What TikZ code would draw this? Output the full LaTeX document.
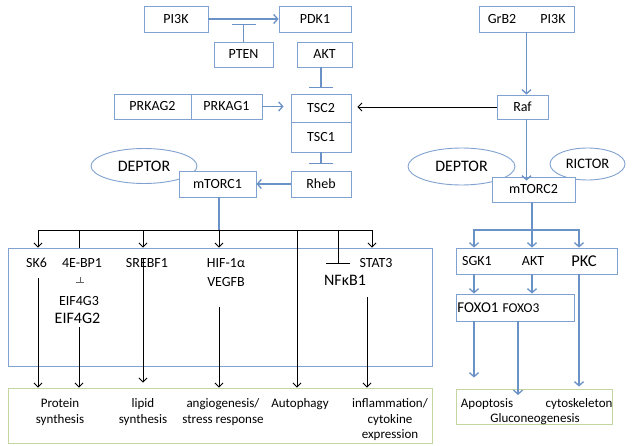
\documentclass[tikz,border=0pt]{standalone}
\usepackage{fontspec}
\setmainfont{Carlito}
\usetikzlibrary{arrows.meta,shapes.geometric}
\definecolor{lineblue}{RGB}{106,146,198}
\definecolor{boxblue}{RGB}{128,162,208}
\definecolor{boxgreen}{RGB}{196,214,160}
\newcommand\myfs[2]{\fontsize{#1}{#2}\selectfont}
\begin{document}
\begin{tikzpicture}[x=1pt,y=-1pt,
  bx/.style={draw=boxblue, line width=0.9pt, fill=white, inner sep=0pt, font=\myfs{14}{16}},
  ell/.style={ellipse, draw=boxblue, line width=0.9pt, fill=white, inner sep=0pt, font=\myfs{16}{18}},
  txt/.style={inner sep=0pt, font=\myfs{14}{16}},
  gtxt/.style={inner sep=0pt, align=center, font=\myfs{13}{15.5}},
  bl/.style={draw=lineblue, line width=1.3pt},
  blarr/.style={bl, -{Straight Barb[length=4pt,width=9pt]}},
  blarrb/.style={bl, {Straight Barb[length=4pt,width=9pt]}-{Straight Barb[length=4pt,width=9pt]}},
  blinh/.style={bl, -{Bar[width=24pt]}},
  bk/.style={draw=black, line width=0.8pt},
  bkarr/.style={bk, -{Straight Barb[length=4pt,width=8pt]}},
  bkarrb/.style={bk, {Straight Barb[length=4pt,width=8pt]}-{Straight Barb[length=4pt,width=8pt]}},
  bkinh/.style={bk, -{Bar[width=24pt]}}
]
\useasboundingbox (0,0) rectangle (634,446);

% ---------- upper left ----------
\node[bx, minimum width=64pt, minimum height=26pt] (pi3k) at (176,19) {PI3K};
\node[bx, minimum width=72pt, minimum height=26pt] (pdk1) at (315,19) {PDK1};
\node[bx, minimum width=59pt, minimum height=25pt] (pten) at (243.5,54.5) {PTEN};
\node[bx, minimum width=55pt, minimum height=25pt] (akt) at (324.5,54.5) {AKT};
\node[bx, minimum width=60pt, minimum height=28pt] (tsc2) at (321,108) {TSC2};
\node[bx, minimum width=60pt, minimum height=30pt] (tsc1) at (321,137) {TSC1};
\node[bx, minimum width=60pt, minimum height=26pt] (rheb) at (321,184) {Rheb};
\node[bx, minimum width=77pt, minimum height=25pt] (prkag2) at (152.5,106.5) {PRKAG2};
\node[bx, minimum width=71pt, minimum height=25pt] (prkag1) at (226.5,106.5) {PRKAG1};
\node[ell, minimum width=106pt, minimum height=35pt] (deptor1) at (144,166) {DEPTOR};
\node[bx, minimum width=77pt, minimum height=26pt] (mtorc1) at (217.5,184) {mTORC1};

\draw[blarr] (pi3k) -- (pdk1);
\draw[blinh] (pten.north) -- ++(0,-18);
\draw[blinh] (akt.south -| tsc2.north) -- ++(0,21);
\draw[blinh] (tsc1.south) -- ++(0,12);
\draw[blarr, shorten >=7pt] (prkag1.east) -- (prkag1.east -| tsc2.west);
\draw[blarr] (rheb.west) -- (mtorc1.east);

% ---------- upper right ----------
\node[bx, minimum width=95pt, minimum height=26pt] (grb) at (526.5,19) {};
\node[txt] (grb2) at (502,19) {GrB2};
\node[txt] (pi3kb) at (553,19) {PI3K};
\node[bx, minimum width=51pt, minimum height=24pt] (raf) at (522.5,107) {Raf};
\node[ell, minimum width=107pt, minimum height=37pt] (deptor2) at (461.5,166.5) {DEPTOR};
\node[ell, minimum width=75pt, minimum height=32pt, font=\myfs{14.5}{16}] (rictor) at (587.5,164) {RICTOR};
\node[bx, minimum width=83pt, minimum height=25pt] (mtorc2) at (533.5,189.5) {mTORC2};

\draw[blarr] (grb.south) -- (grb.south |- raf.north);
\draw[blarr] (grb.south |- raf.south) -- ([yshift=-4pt]grb.south |- mtorc2.north);
\draw[bkarr, shorten >=6pt] (raf.west) -- (raf.west -| tsc2.east);

% ---------- lower left ----------
\node[draw=boxblue, line width=0.9pt, minimum width=424pt, minimum height=118pt, inner sep=0pt] (lb) at (220,307) {};
\node[draw=boxgreen, line width=0.9pt, minimum width=424pt, minimum height=55pt, inner sep=0pt] (lg) at (220,415.5) {};

\node[txt] (sk6) at (36.5,263) {SK6};
\node[txt] (ebp) at (82,263) {4E-BP1};
\node[txt] (srebf) at (147,263) {SREBF1};
\node[txt] (hif) at (226,263) {HIF-1α};
\node[txt] (vegfb) at (226,282) {VEGFB};
\node[txt] (eif3) at (79,301) {EIF4G3};
\node[txt, font=\myfs{16}{18}] (eif2) at (77.5,318) {EIF4G2};
\node[txt] (stat3) at (376,263) {STAT3};
\node[txt, font=\myfs{16}{18}] (nfkb) at (345,280) {NFκB1};

\coordinate (hA) at (38,230);
\coordinate (hB) at (372,230);
\coordinate (hm) at (219,230);
\coordinate (h4) at (79,230);
\coordinate (hs) at (143,230);
\coordinate (ha) at (297,230);
\coordinate (hn) at (338,230);
\draw[bl] (mtorc1.south -| hm) -- (hm);
\draw[bkarrb] (hA |- lb.north) |- (hB) -- (hB |- lb.north);
\draw[bk] (h4) -- (h4 |- lb.north);
\draw[bkarr] (hs) -- (hs |- lb.north);
\draw[bkarr] (hm) -- (hm |- lb.north);
\draw[bkarr] (ha) -- (ha |- lg.north);
\draw[bkinh] (hn) -- ++(0,34);
\draw[bk, draw=black!60, -{Bar[width=8pt]}] (80,277) -- (80,283);

\coordinate (s1) at (38,278);
\coordinate (s2) at (79,327);
\coordinate (s3) at (143,258);
\coordinate (s4) at (219,307);
\coordinate (s5) at (367,297);
\draw[bkarr] (s1) -- (s1 |- lg.north);
\draw[bkarr] (s2) -- (s2 |- lg.north);
\draw[bkarr, shorten >=5pt] (s3) -- (s3 |- lg.north);
\draw[bkarr] (s4) -- (s4 |- lg.north);
\draw[bkarr] (s5) -- (s5 |- lg.north);

\node[gtxt] (protein) at (60,412) {Protein\\synthesis};
\node[gtxt] (lipid) at (143,412) {lipid\\synthesis};
\node[gtxt] (angio) at (223,412) {angiogenesis/\\stress response};
\node[gtxt] (autoph) at (300,404) {Autophagy};
\node[gtxt] (inflam) at (390,420) {inflammation/\\cytokine\\expression};

% ---------- lower right ----------
\node[draw=boxblue, line width=0.9pt, minimum width=161pt, minimum height=26pt, inner sep=0pt] (sgk) at (536.5,261) {};
\node[draw=boxblue, line width=0.9pt, minimum width=118pt, minimum height=27pt, inner sep=0pt] (foxo) at (515,307.5) {};
\node[draw=boxgreen, line width=0.9pt, minimum width=156pt, minimum height=35pt, inner sep=0pt] (rg) at (534,406.5) {};

\node[txt] (sgk1) at (477,261) {SGK1};
\node[txt] (akt2) at (533,261) {AKT};
\node[txt, font=\myfs{16.5}{18}] (pkc) at (584,261) {PKC};
\node[txt, font=\myfs{15}{17}] (foxo1) at (478,308) {FOXO1};
\node[txt, font=\myfs{13.5}{15}] (foxo3) at (521,308) {FOXO3};

\coordinate (rA) at (474,230);
\coordinate (rB) at (579,230);
\coordinate (rm) at (532,230);
\coordinate (f3) at (518,321);
\draw[bl] (mtorc2.south -| rm) -- (rm);
\draw[blarrb] (rA |- sgk.north) |- (rB) -- (rB |- sgk.north);
\draw[blarr] (rm) -- (rm |- sgk.north);
\draw[blarr] (rA |- sgk.south) -- (rA |- foxo.north);
\draw[blarr] (rm |- sgk.south) -- (rm |- foxo.north);
\draw[blarr, shorten >=11pt] (rA |- foxo.south) -- (rA |- rg.north);
\draw[blarr] (f3) -- ++(0,74);
\draw[blarr, shorten >=2pt] (rB |- sgk.south) -- (rB |- rg.north);

\node[gtxt] (apop) at (487,404) {Apoptosis};
\node[gtxt] (cyto) at (579,404) {cytoskeleton};
\node[gtxt] (gluco) at (535,419) {Gluconeogenesis};
\end{tikzpicture}
\end{document}
